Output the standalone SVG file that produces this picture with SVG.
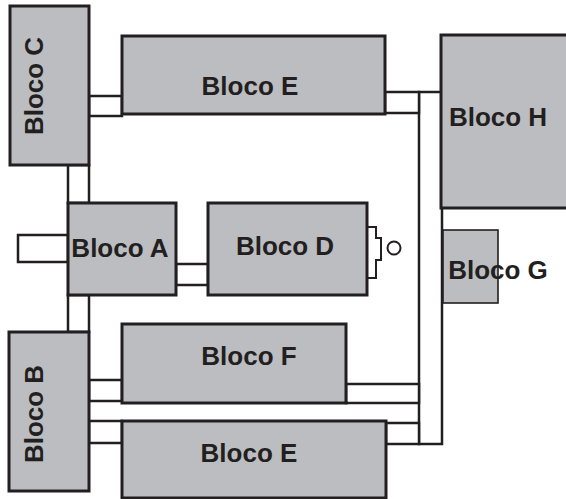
<svg xmlns="http://www.w3.org/2000/svg" width="566" height="499" viewBox="0 0 566 499">
<style>
.blk{fill:#bcbdc0;stroke:#231f20;stroke-width:3}
.thin{fill:#bcbdc0;stroke:#231f20;stroke-width:1.6}
.con{fill:#ffffff;stroke:#231f20;stroke-width:2.5}
.ln{fill:none;stroke:#231f20;stroke-width:2}
.lbl{font-family:"Liberation Sans",Arial,sans-serif;font-weight:bold;font-size:26px;fill:#231f20;text-anchor:middle}
</style>
<rect width="566" height="499" fill="#ffffff"/>
<g id="connectors">
<rect class="con" x="89" y="96" width="33" height="20"/>
<rect class="con" x="68" y="165" width="21" height="38"/>
<rect class="con" x="68" y="295" width="21" height="37"/>
<rect class="con" x="18" y="235" width="50" height="27"/>
<rect class="con" x="176" y="264" width="32" height="21"/>
<rect class="con" x="89" y="380" width="33" height="21"/>
<rect class="con" x="89" y="421" width="33" height="22"/>
<rect class="con" x="419" y="92" width="23" height="352"/>
<rect class="con" x="385" y="92" width="34" height="21"/>
<rect class="con" x="346" y="384" width="73" height="19"/>
<rect class="con" x="386" y="423" width="33" height="21"/>
<polyline class="ln" points="367,227 376,227 376,238 381,238 381,260 376,260 376,278 367,278"/>
<circle class="ln" cx="394" cy="248" r="6.5"/>
</g>
<g id="bloco-c">
<rect class="blk" x="10" y="6" width="79" height="159"/>
<text class="lbl" transform="translate(43,86) rotate(-90)">Bloco C</text>
</g>
<g id="bloco-e-top">
<rect class="blk" x="122" y="36" width="263" height="78"/>
<text class="lbl" x="250" y="95">Bloco E</text>
</g>
<g id="bloco-h">
<rect class="blk" x="441" y="35" width="135" height="173"/>
<text class="lbl" x="498" y="126">Bloco H</text>
</g>
<g id="bloco-a">
<rect class="blk" x="68" y="203" width="108" height="92"/>
<text class="lbl" x="120" y="257">Bloco A</text>
</g>
<g id="bloco-d">
<rect class="blk" x="208" y="203" width="159" height="92"/>
<text class="lbl" x="285" y="255">Bloco D</text>
</g>
<g id="bloco-g">
<rect class="thin" x="443" y="230" width="55" height="73"/>
<text class="lbl" x="498" y="279">Bloco G</text>
</g>
<g id="bloco-b">
<rect class="blk" x="9" y="332" width="80" height="159"/>
<text class="lbl" transform="translate(43,414) rotate(-90)">Bloco B</text>
</g>
<g id="bloco-f">
<rect class="blk" x="122" y="324" width="224" height="79"/>
<text class="lbl" x="249" y="365">Bloco F</text>
</g>
<g id="bloco-e-bottom">
<rect class="blk" x="122" y="421" width="264" height="77"/>
<text class="lbl" x="249" y="462">Bloco E</text>
</g>
</svg>
